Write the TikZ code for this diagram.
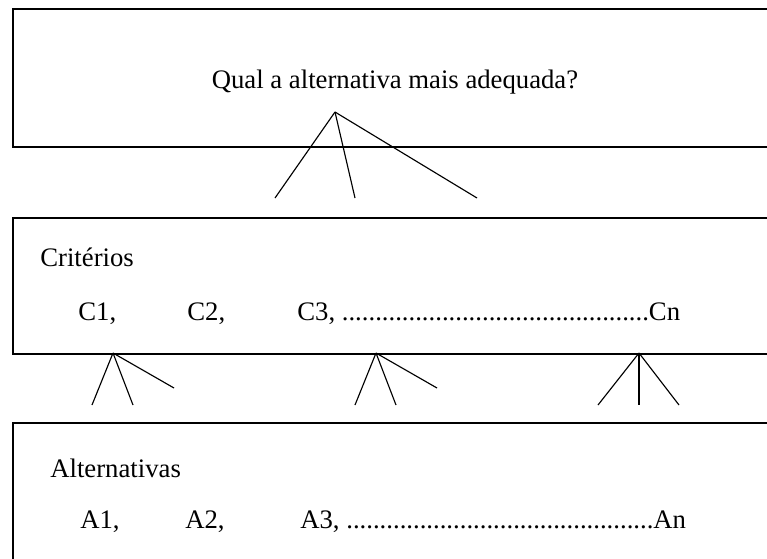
\documentclass[tikz,border=0pt]{standalone}
\usepackage{fontspec}
\setmainfont{Liberation Serif}
\usetikzlibrary{positioning}

\begin{document}
\begin{tikzpicture}[
  x=0.02cm, y=-0.02cm,
  levelbox/.style={draw, line width=1.1pt, anchor=north west, minimum width=16cm, inner sep=0pt},
  txt/.style={anchor=base west, inner sep=0pt, font=\fontsize{15.2}{17}\selectfont},
  branch/.style={line width=0.65pt},
]
\useasboundingbox (0,0) rectangle (767,558);
\clip (0,0) rectangle (767,558);

% Levels
\node[levelbox, minimum height=2.76cm] (GOAL) at (12,8)   {};
\node[levelbox, minimum height=2.72cm] (CRIT) at (12,217) {};
\node[levelbox, minimum height=3.5cm]  (ALT)  at (12,422) {};

% Texts
\node[txt, anchor=base] (Q)  at (395,88) {Qual a alternativa mais adequada?};
\node[txt] (CT) at (40,266)  {Critérios};
\node[txt] (C1) at (78,320)  {C1,};
\node[txt] (C2) at (187,320) {C2,};
\node[txt] (CN) at (297,320) {C3, ..............................................Cn};
\node[txt] (AT) at (50,477)  {Alternativas};
\node[txt] (A1) at (80,528)  {A1,};
\node[txt] (A2) at (185,528) {A2,};
\node[txt] (AN) at (300,528) {A3, ..............................................An};

% Branch points
\coordinate (g)  at (335,112);
\coordinate (k1) at (113,353);
\coordinate (k2) at (376,353);
\coordinate (k3) at (639,353);

\foreach \x/\y [count=\i] in {275/198, 355/198, 477/198} \coordinate (g\i) at (\x,\y);
\foreach \x/\y [count=\i] in {92/405, 133/405, 174/388} \coordinate (ka\i) at (\x,\y);
\foreach \x/\y [count=\i] in {355/405, 396/405, 437/388} \coordinate (kb\i) at (\x,\y);
\foreach \x/\y [count=\i] in {598/405, 639/405, 679/405} \coordinate (kc\i) at (\x,\y);

% --- branches ---
\foreach \i in {1,2,3} {
  \draw[branch] (g)  -- (g\i);
  \draw[branch] (k1) -- (ka\i);
  \draw[branch] (k2) -- (kb\i);
  \draw[branch] (k3) -- (kc\i);
}

\end{tikzpicture}
\end{document}
